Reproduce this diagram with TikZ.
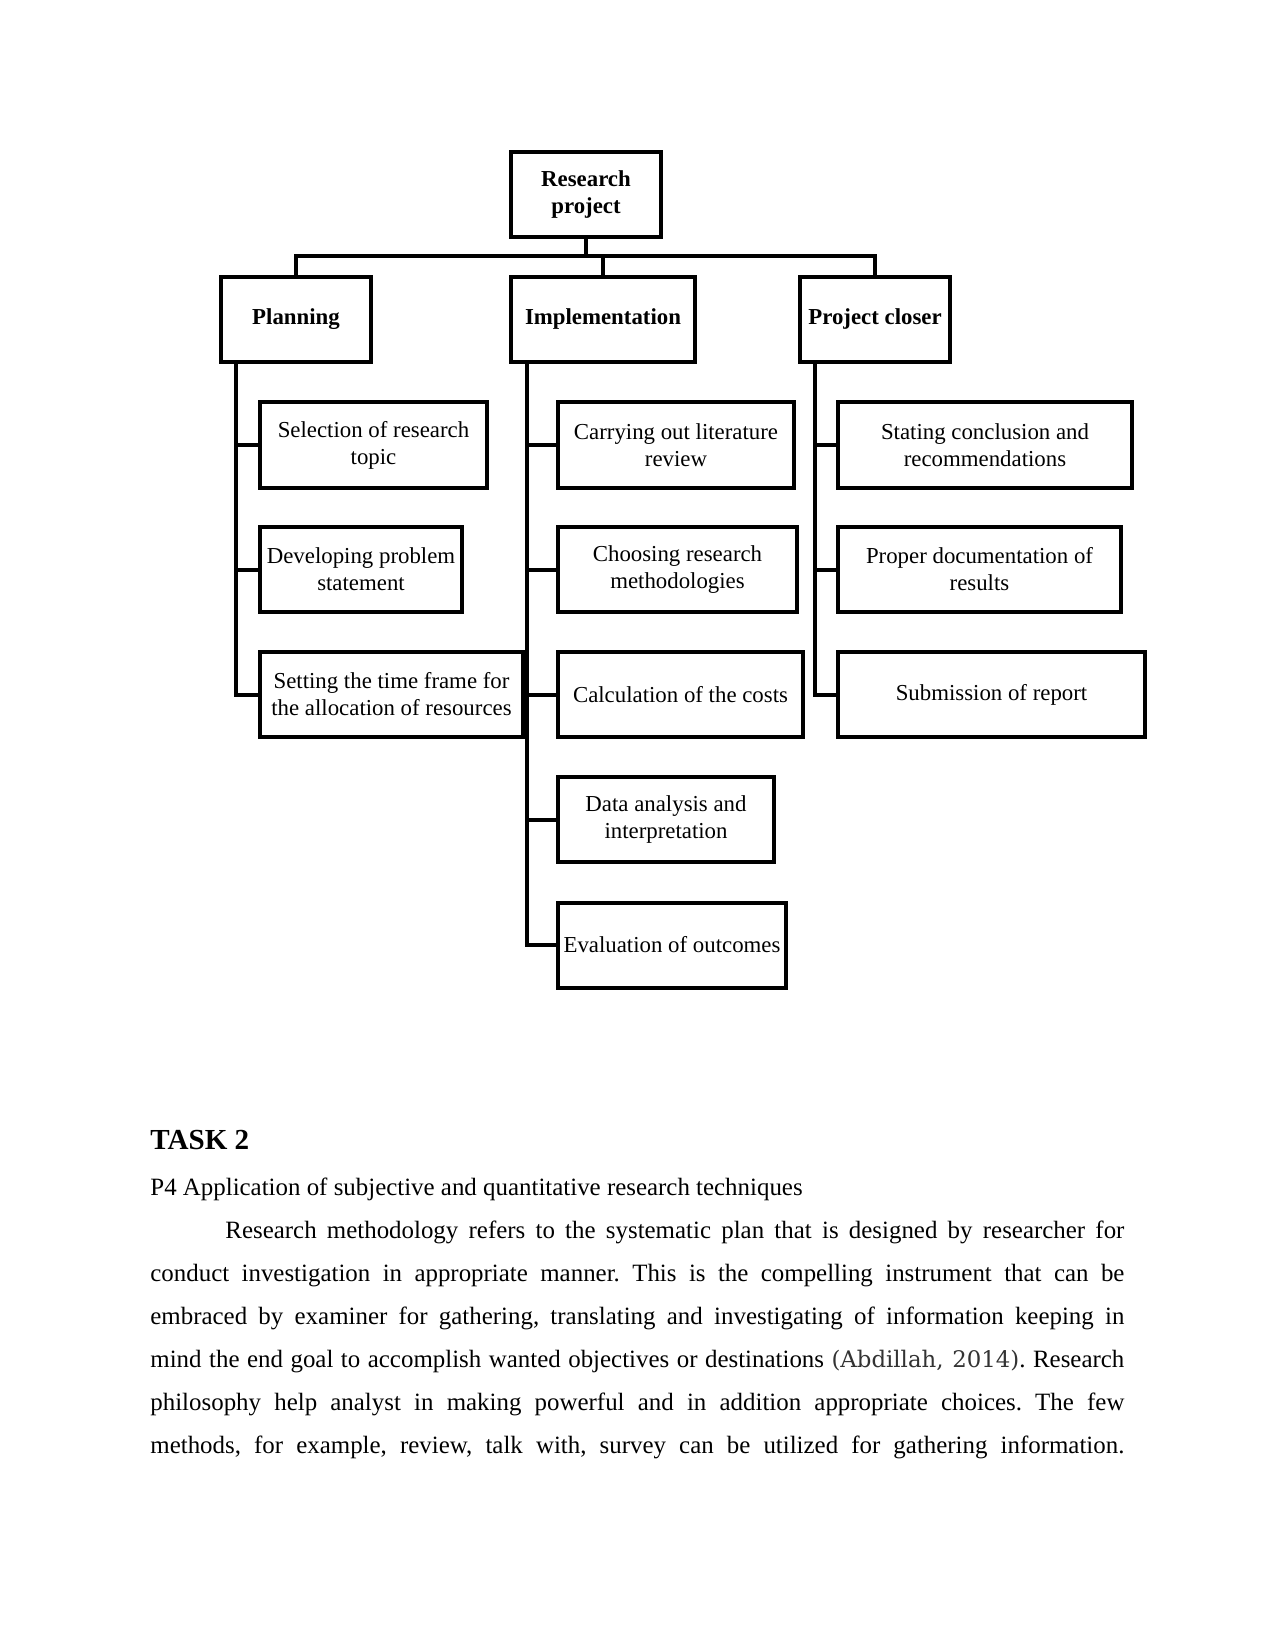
\documentclass[tikz,border=0pt]{standalone}
\usepackage{fontspec}
\setmainfont{Liberation Serif}
\newfontfamily\citefont{DejaVu Serif}
\usetikzlibrary{positioning,calc}
\frenchspacing

\newdimen\pxu
\pxu=0.4818pt

\begin{document}
\begin{tikzpicture}[x=\pxu, y=-\pxu,
    box/.style={draw, rectangle, line width=4\pxu, minimum height=85\pxu, align=center, inner sep=1pt, font=\fontsize{11}{13}\selectfont},
    head/.style={box, font=\fontsize{11}{13}\selectfont\bfseries},
    leaf/.style={box, anchor=west},
    wire/.style={line width=4\pxu},
    bodyline/.style={anchor=base west, inner sep=0pt, font=\fontsize{12}{14}\selectfont}]
    \path[fill=white] (0,0) rectangle (1275,1651);

    % top of the tree
    \node[head, minimum width=150\pxu] (rp) at (586,195) {Research\\project};
    \node[head, minimum width=150\pxu] (plan) at (296,319.5) {Planning};
    \node[head, minimum width=184\pxu] (impl) at (603,319.5) {Implementation};
    \node[head, minimum width=150\pxu] (close) at (875,319.5) {Project closer};

    \coordinate (bus) at (0,256);
    \draw[wire] (rp.south) -- (rp.south |- bus);
    \draw[wire] (plan.north) |- (close.north |- bus) -- (close.north);
    \draw[wire] (impl.north) -- (impl.north |- bus);

    % planning
    \node[leaf, minimum width=227\pxu] (sel) at (258,445) {Selection of research\\topic};
    \node[leaf, minimum width=202\pxu] (dev) at (258,569.5) {Developing problem\\statement};
    \node[leaf, minimum width=263\pxu] (time) at (258,694.5) {Setting the time frame for\\the allocation of resources};

    % implementation
    \node[leaf, minimum width=236\pxu] (lit) at (556,445) {Carrying out literature\\review};
    \node[leaf, minimum width=239\pxu] (meth) at (556,569.5) {Choosing research\\methodologies};
    \node[leaf, minimum width=245\pxu] (cost) at (556,694.5) {Calculation of the costs};
    \node[leaf, minimum width=216\pxu] (data) at (556,819.5) {Data analysis and\\interpretation};
    \node[leaf, minimum width=228\pxu] (eval) at (556,945) {Evaluation of outcomes};

    % project closer
    \node[leaf, minimum width=294\pxu] (concl) at (836,445) {Stating conclusion and\\recommendations};
    \node[leaf, minimum width=283\pxu] (docu) at (836,569.5) {Proper documentation of\\results};
    \node[leaf, minimum width=307\pxu] (subm) at (836,694.5) {Submission of report};

    % spines
    \coordinate (pspine) at ([xshift=17\pxu]plan.south west);
    \coordinate (ispine) at ([xshift=18\pxu]impl.south west);
    \coordinate (cspine) at ([xshift=17\pxu]close.south west);
    \draw[wire] (pspine) |- (time.west);
    \draw[wire] (ispine) |- (eval.west);
    \draw[wire] (cspine) |- (subm.west);
    \foreach \leaf in {sel,dev}
        \draw[wire] (\leaf.west) -- (\leaf.west -| pspine);
    \foreach \leaf in {lit,meth,cost,data}
        \draw[wire] (\leaf.west) -- (\leaf.west -| ispine);
    \foreach \leaf in {concl,docu}
        \draw[wire] (\leaf.west) -- (\leaf.west -| cspine);

    % text below the chart
    \node[anchor=base west, inner sep=0pt, font=\fontsize{14}{16}\selectfont\bfseries] (task) at (150,1149) {TASK 2};
    \node[bodyline] (sub) at (150,1195) {P4 Application of subjective and quantitative research techniques};
    \node[bodyline] (l1) at (150,1238) {\hbox to 974\pxu{\hskip 75\pxu Research methodology refers to the systematic plan that is designed by researcher for}};
    \node[bodyline] (l2) at (150,1281) {\hbox to 974\pxu{conduct investigation in appropriate manner. This is the compelling instrument that can be}};
    \node[bodyline] (l3) at (150,1324) {\hbox to 974\pxu{embraced by examiner for gathering, translating and investigating of information keeping in}};
    \node[bodyline] (l4) at (150,1367) {\hbox to 974\pxu{mind the end goal to accomplish wanted objectives or destinations {\citefont\fontsize{11}{14}\selectfont\color{black!80}(Abdillah, 2014)}. Research}};
    \node[bodyline] (l5) at (150,1410) {\hbox to 974\pxu{philosophy help analyst in making powerful and in addition appropriate choices. The few}};
    \node[bodyline] (l6) at (150,1453) {\hbox to 974\pxu{methods, for example, review, talk with, survey can be utilized for gathering information.}};
\end{tikzpicture}
\end{document}
